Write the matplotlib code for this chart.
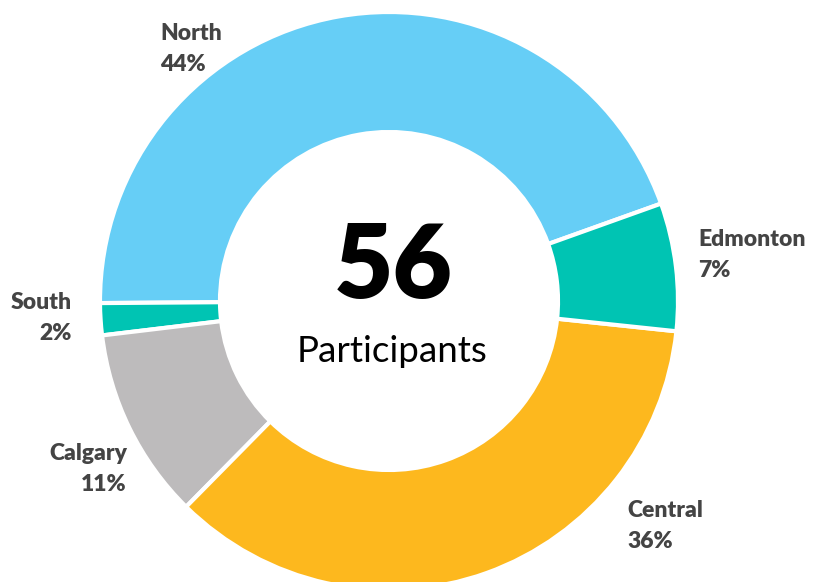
import matplotlib
matplotlib.use("Agg")
from matplotlib import pyplot as plt

# --- Data (counts out of 56 participants) ---
regions = ["North", "South", "Calgary", "Central", "Edmonton"]
counts = [25, 1, 6, 20, 4]
percent_labels = ["44%", "2%", "11%", "36%", "7%"]
colors = ["#66CEF6", "#00C4B3", "#BDBBBC", "#FDB81E", "#00C4B3"]
total = sum(counts)

W, H = 814, 582
fig = plt.figure(figsize=(W / 100, H / 100), dpi=100)
ax = fig.add_axes([0, 0, 1, 1])

cx, cy = 389, H - 301
ax.pie(counts, colors=colors, center=(cx, cy), radius=289, startangle=19.7,
       counterclock=True,
       wedgeprops=dict(width=120, edgecolor="white", linewidth=3))
ax.set_xlim(0, W)
ax.set_ylim(0, H)
ax.set_aspect("equal")
ax.axis("off")

plt.rcParams["font.family"] = ["Lato", "DejaVu Sans"]
label_color = "#444444"

# label anchors in pixel coordinates (from the top-left)
label_pos = {
    "North": (160, 23, "left"),
    "South": (72, 292, "right"),
    "Calgary": (127, 443, "right"),
    "Central": (627, 500, "left"),
    "Edmonton": (698, 229, "left"),
}
for name, pct in zip(regions, percent_labels):
    x, y, ha = label_pos[name]
    ax.text(x, H - y, f"{name}\n{pct}", ha=ha, va="top", fontsize=16.5,
            fontweight="heavy", color=label_color, linespacing=1.6)

ax.text(cx + 4, H - 268, str(total), ha="center", va="center", fontsize=74,
        fontweight="heavy", color="black")
ax.text(cx + 3, H - 352, "Participants", ha="center", va="center", fontsize=26.5,
        color="black")

fig.savefig("out.png", dpi=100)
